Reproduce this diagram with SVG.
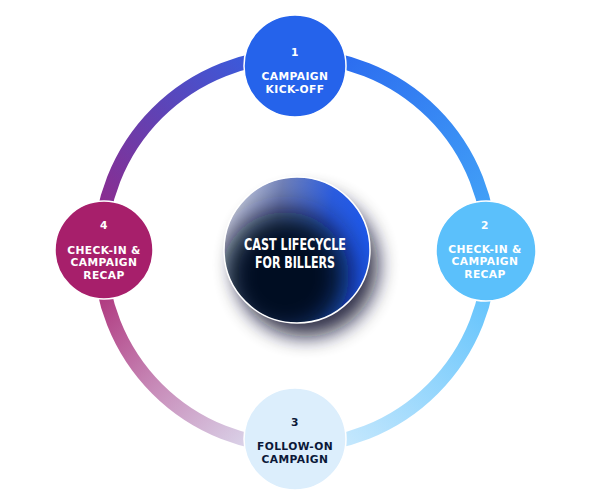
<svg xmlns="http://www.w3.org/2000/svg" width="590" height="500" viewBox="0 0 590 500">
  <defs>
    <style>
      .ring { fill: none; stroke-width: 14; }
      .node { stroke: #ffffff; stroke-width: 1.5; }
      .lbl { font-family: "DejaVu Sans", "Liberation Sans", sans-serif; font-weight: bold; font-size: 10.7px; letter-spacing: 0.4px; text-anchor: middle; }
      .w { fill: #ffffff; }
      .d { fill: #0b1838; }
      .ctr { font-family: "DejaVu Sans", "Liberation Sans", sans-serif; font-weight: bold; font-stretch: condensed; font-size: 15px; fill: #ffffff; text-anchor: middle; }
    </style>
    <linearGradient id="gTR" gradientUnits="userSpaceOnUse" x1="295" y1="56" x2="490" y2="251">
      <stop offset="0" stop-color="#2864EE"/>
      <stop offset="1" stop-color="#45A8F8"/>
    </linearGradient>
    <linearGradient id="gBR" gradientUnits="userSpaceOnUse" x1="490" y1="251" x2="295" y2="446">
      <stop offset="0" stop-color="#55BEFC"/>
      <stop offset="1" stop-color="#D6EEFD"/>
    </linearGradient>
    <linearGradient id="gBL" gradientUnits="userSpaceOnUse" x1="295" y1="446" x2="100" y2="251">
      <stop offset="0" stop-color="#E0EAF8"/>
      <stop offset="0.5" stop-color="#C88DBA"/>
      <stop offset="1" stop-color="#A8206E"/>
    </linearGradient>
    <linearGradient id="gTL" gradientUnits="userSpaceOnUse" x1="100" y1="251" x2="295" y2="56">
      <stop offset="0" stop-color="#982684"/>
      <stop offset="0.5" stop-color="#6042B4"/>
      <stop offset="1" stop-color="#2E62E8"/>
    </linearGradient>
    <linearGradient id="gCore" x1="0" y1="0" x2="1" y2="0.15">
      <stop offset="0" stop-color="#E2E5EE"/>
      <stop offset="0.4" stop-color="#7080B8"/>
      <stop offset="0.75" stop-color="#2A5CE0"/>
      <stop offset="1" stop-color="#1E58EA"/>
    </linearGradient>
    <filter id="blurS" x="-50%" y="-50%" width="200%" height="200%">
      <feGaussianBlur stdDeviation="10"/>
    </filter>
    <filter id="blurB" x="-50%" y="-50%" width="200%" height="200%">
      <feGaussianBlur stdDeviation="15"/>
    </filter>
    <clipPath id="clipCore">
      <circle cx="297" cy="250" r="73"/>
    </clipPath>
  </defs>

  <g id="connectors">
    <path class="ring" stroke="url(#gTR)" d="M295,56 A195,195 0 0 1 490,251"/>
    <path class="ring" stroke="url(#gBR)" d="M490,251 A195,195 0 0 1 295,446"/>
    <path class="ring" stroke="url(#gBL)" d="M295,446 A195,195 0 0 1 100,251"/>
    <path class="ring" stroke="url(#gTL)" d="M100,251 A195,195 0 0 1 295,56"/>
  </g>

  <g id="center">
    <circle cx="306" cy="265" r="72" fill="#07112C" opacity="0.85" filter="url(#blurS)"/>
    <circle cx="297" cy="250" r="73" fill="url(#gCore)"/>
    <g clip-path="url(#clipCore)">
      <circle cx="285" cy="276" r="64" fill="#020A22" filter="url(#blurB)"/>
    </g>
    <circle cx="297" cy="250" r="73" fill="none" stroke="#ffffff" stroke-width="1.5"/>
    <text class="ctr" x="295" y="249.5" textLength="102" lengthAdjust="spacingAndGlyphs">CAST LIFECYCLE</text>
    <text class="ctr" x="295" y="267.5" textLength="80" lengthAdjust="spacingAndGlyphs">FOR BILLERS</text>
  </g>

  <g id="node1">
    <circle class="node" cx="295" cy="66" r="51" fill="#2563EB"/>
    <text class="lbl w" x="295" y="55.7">1</text>
    <text class="lbl w" x="295" y="80">CAMPAIGN</text>
    <text class="lbl w" x="295" y="92.5">KICK-OFF</text>
  </g>

  <g id="node2">
    <circle class="node" cx="486" cy="251" r="50" fill="#5BC0FB"/>
    <text class="lbl w" x="485" y="229.3">2</text>
    <text class="lbl w" x="485" y="252.5">CHECK-IN &amp;</text>
    <text class="lbl w" x="485" y="265">CAMPAIGN</text>
    <text class="lbl w" x="485" y="277.5">RECAP</text>
  </g>

  <g id="node3">
    <circle class="node" cx="295" cy="439" r="51" fill="#DCEEFC"/>
    <text class="lbl d" x="295" y="425.7">3</text>
    <text class="lbl d" x="295" y="450">FOLLOW-ON</text>
    <text class="lbl d" x="295" y="462.5">CAMPAIGN</text>
  </g>

  <g id="node4">
    <circle class="node" cx="104" cy="250" r="49" fill="#A71F6B"/>
    <text class="lbl w" x="104" y="229.3">4</text>
    <text class="lbl w" x="104" y="253.5">CHECK-IN &amp;</text>
    <text class="lbl w" x="104" y="266">CAMPAIGN</text>
    <text class="lbl w" x="104" y="278.5">RECAP</text>
  </g>
</svg>
